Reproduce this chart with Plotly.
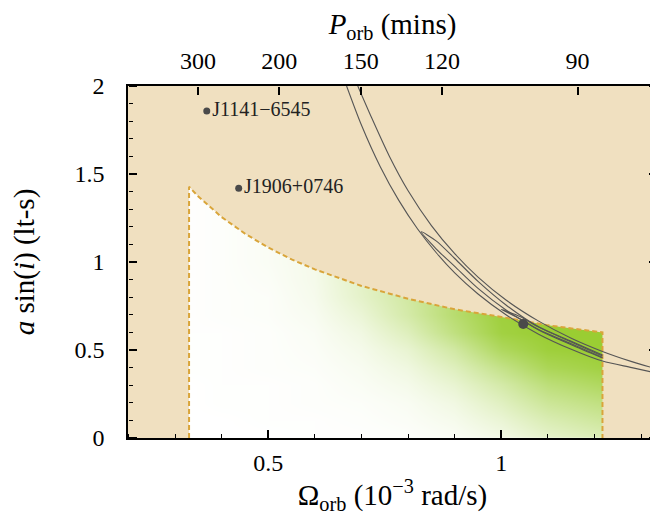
import math
import plotly.graph_objects as go

# allowed region of the simulation (10^-3 rad/s)
omega_min = 0.33
omega_max = 1.217

# upper edge of the allowed region
edge_omega = [0.33, 0.35, 0.40, 0.45, 0.50, 0.55, 0.60, 0.70, 0.80, 0.90, 1.00, 1.10, 1.217]
edge_asini = [1.428, 1.372, 1.255, 1.161, 1.082, 1.015, 0.958, 0.864, 0.791, 0.731, 0.688, 0.640, 0.600]

# density of simulated systems (0 = none, 1 = solid green)
dens_omega = [0.33, 0.40, 0.50, 0.60, 0.70, 0.80, 0.90, 1.00, 1.10, 1.22]
dens_asini = [0.0, 0.1, 0.2, 0.3, 0.4, 0.5, 0.6, 0.7, 0.8, 0.9, 1.0, 1.1, 1.2, 1.3, 1.4]
density = [
    [0.00, 0.00, 0.00, 0.01, 0.01, 0.02, 0.05, 0.12, 0.25, 0.35],
    [0.00, 0.00, 0.01, 0.01, 0.02, 0.04, 0.09, 0.20, 0.36, 0.48],
    [0.00, 0.01, 0.01, 0.02, 0.03, 0.06, 0.14, 0.30, 0.50, 0.62],
    [0.00, 0.01, 0.01, 0.02, 0.05, 0.10, 0.22, 0.42, 0.65, 0.78],
    [0.01, 0.01, 0.02, 0.03, 0.07, 0.15, 0.32, 0.58, 0.82, 0.92],
    [0.01, 0.01, 0.02, 0.04, 0.10, 0.22, 0.45, 0.78, 0.95, 1.00],
    [0.01, 0.01, 0.02, 0.05, 0.14, 0.32, 0.62, 0.92, 1.00, 1.00],
    [0.01, 0.02, 0.03, 0.07, 0.20, 0.42, 0.70, 0.95, 1.00, 1.00],
    [0.01, 0.02, 0.03, 0.09, 0.26, 0.45, 0.70, 0.95, 1.00, 1.00],
    [0.01, 0.02, 0.04, 0.10, 0.28, 0.45, 0.70, 0.95, 1.00, 1.00],
    [0.01, 0.02, 0.05, 0.10, 0.28, 0.45, 0.70, 0.95, 1.00, 1.00],
    [0.01, 0.02, 0.05, 0.10, 0.28, 0.45, 0.70, 0.95, 1.00, 1.00],
    [0.01, 0.02, 0.05, 0.10, 0.28, 0.45, 0.70, 0.95, 1.00, 1.00],
    [0.01, 0.02, 0.05, 0.10, 0.28, 0.45, 0.70, 0.95, 1.00, 1.00],
    [0.01, 0.02, 0.05, 0.10, 0.28, 0.45, 0.70, 0.95, 1.00, 1.00],
]

# constraint curves: outer band, middle loop, inner loop
outer_hi_omega = [0.692, 0.72, 0.76, 0.80, 0.85, 0.90, 0.95, 1.01, 1.08, 1.15, 1.217, 1.28, 1.335]
outer_hi_asini = [2.00, 1.83, 1.60, 1.405, 1.207, 1.047, 0.914, 0.784, 0.664, 0.567, 0.492, 0.434, 0.391]
outer_lo_omega = [0.668, 0.70, 0.74, 0.78, 0.82, 0.86, 0.90, 0.95, 1.01, 1.08, 1.15, 1.217, 1.28, 1.335]
outer_lo_asini = [2.00, 1.777, 1.543, 1.35, 1.189, 1.054, 0.938, 0.818, 0.700, 0.590, 0.504, 0.437, 0.400, 0.368]
mid_omega = [1.217, 1.15, 1.08, 1.01, 0.95, 0.90, 0.86, 0.828, 0.86, 0.90, 0.95, 1.01, 1.08, 1.15, 1.217]
mid_asini = [0.472, 0.550, 0.632, 0.756, 0.890, 1.020, 1.120, 1.172, 1.075, 0.975, 0.850, 0.727, 0.614, 0.530, 0.455]
inner_omega = [1.217, 1.15, 1.08, 1.04, 1.00, 1.04, 1.08, 1.15, 1.217]
inner_asini = [0.466, 0.545, 0.630, 0.690, 0.731, 0.678, 0.616, 0.535, 0.458]

# known pulsars
psr_names = ["J1141\u22126545", "J1906+0746"]
psr_omega = [0.368, 0.4365]
psr_asini = [1.858, 1.419]
new_omega = [1.047]
new_asini = [0.648]

# top axis ticks, orbital period in minutes
period_ticks = [300, 200, 150, 120, 90]

x_major = [0.5, 1]
x_minor = [0.2, 0.3, 0.4, 0.6, 0.7, 0.8, 0.9, 1.1, 1.2, 1.3]
y_major = [0, 0.5, 1, 1.5, 2]
y_minor = [0.1, 0.2, 0.3, 0.4, 0.6, 0.7, 0.8, 0.9, 1.1, 1.2, 1.3, 1.4, 1.6, 1.7, 1.8, 1.9]

tan = "#f0e0c0"
x_range = [0.199, 1.334]
y_range = [0, 2]

fig = go.Figure()

fig.add_trace(go.Heatmap(
    x=dens_omega, y=dens_asini, z=density,
    colorscale=[[0, "white"], [1, "#9acd32"]], zmin=0, zmax=1,
    zsmooth="best", showscale=False, hoverinfo="skip"))

# tan area outside the allowed region
tan_x = [x_range[0], omega_min] + edge_omega + [omega_max, x_range[1], x_range[1], x_range[0], x_range[0]]
tan_y = [0, 0] + edge_asini + [0, 0, 2, 2, 0]
fig.add_trace(go.Scatter(x=tan_x, y=tan_y, fill="toself", fillcolor=tan,
                         mode="none", hoverinfo="skip"))

bx = [omega_min, omega_min] + edge_omega + [omega_max, omega_max]
by = [0, edge_asini[0]] + edge_asini + [edge_asini[-1], 0]
fig.add_trace(go.Scatter(x=bx, y=by, mode="lines",
                         line=dict(color="#d9a53a", width=2, dash="5px,3px")))

for xs, ys in [(outer_hi_omega, outer_hi_asini), (outer_lo_omega, outer_lo_asini),
               (mid_omega, mid_asini), (inner_omega, inner_asini)]:
    fig.add_trace(go.Scatter(x=xs, y=ys, mode="lines", line_shape="spline",
                             line=dict(color="#555555", width=1.1, smoothing=0.8)))

fig.add_trace(go.Scatter(x=psr_omega, y=psr_asini, mode="markers+text",
                         text=psr_names, textposition="middle right",
                         textfont=dict(size=20, color="#222"),
                         marker=dict(color="#4a4a4a", size=7)))
fig.add_trace(go.Scatter(x=new_omega, y=new_asini, mode="markers",
                         marker=dict(color="#4a4a4a", size=10)))

# invisible traces so every extra axis gets drawn
top_vals = [2 * math.pi / (p * 60) * 1e3 for p in period_ticks]
for xa, ya in [("x2", "y"), ("x3", "y2"), ("x4", "y3"), ("x5", "y4"), ("x3", "y5")]:
    fig.add_trace(go.Scatter(x=[0.5], y=[1], xaxis=xa, yaxis=ya, mode="markers",
                             marker=dict(opacity=0), hoverinfo="skip"))

axis_font = dict(family="Liberation Serif", size=24, color="black")
common = dict(showgrid=False, zeroline=False, automargin=False,
              tickcolor="black", linecolor="black", linewidth=1.5)
# tick-only axes sit on the opposite edge so "outside" ticks point into the plot
tick_x = dict(overlaying="x", matches="x", range=x_range, anchor="free",
              ticks="outside", showticklabels=False, showline=False, **common)
tick_y = dict(overlaying="y", matches="y", range=y_range, anchor="free",
              ticks="outside", showticklabels=False, showline=False, **common)

fig.update_layout(
    width=650, height=508,
    margin=dict(l=120, r=1, t=78, b=78),
    paper_bgcolor="white", plot_bgcolor="white",
    showlegend=False,
    font=axis_font,
    xaxis=dict(range=x_range, tickvals=x_major, ticktext=["0.5", "1"],
               ticks="", showline=True, ticklabelstandoff=2,
               title=dict(text="\u03a9<sub>orb</sub> (10<sup>\u22123</sup> rad/s)",
                          standoff=10), **common),
    xaxis2=dict(overlaying="x", side="top", matches="x", range=x_range,
                tickvals=top_vals, ticktext=[str(p) for p in period_ticks],
                ticks="", showline=True, ticklabelstandoff=6,
                title=dict(text="<i>P</i><sub>orb</sub> (mins)", standoff=18),
                **common),
    xaxis3=dict(side="top", position=0, tickvals=x_major, ticklen=8, tickwidth=1.5, **tick_x),
    xaxis4=dict(side="top", position=0, tickvals=x_minor, ticklen=4, tickwidth=1.2, **tick_x),
    xaxis5=dict(side="bottom", position=1, tickvals=top_vals, ticklen=8, tickwidth=1.5, **tick_x),
    yaxis=dict(range=y_range, tickvals=y_major,
               ticktext=["0", "0.5", "1", "1.5", "2"],
               ticks="", showline=True, mirror=True, ticklabelstandoff=17,
               title=dict(text="<i>a</i> sin(<i>i</i>) (lt-s)", standoff=58),
               **common),
    yaxis2=dict(side="right", position=0, tickvals=y_major, ticklen=8, tickwidth=1.5, **tick_y),
    yaxis3=dict(side="right", position=0, tickvals=y_minor, ticklen=4, tickwidth=1.2, **tick_y),
    yaxis4=dict(side="left", position=1, tickvals=y_major, ticklen=8, tickwidth=1.5, **tick_y),
    yaxis5=dict(side="left", position=1, tickvals=y_minor, ticklen=4, tickwidth=1.2, **tick_y),
)

fig.write_html("out.html")
